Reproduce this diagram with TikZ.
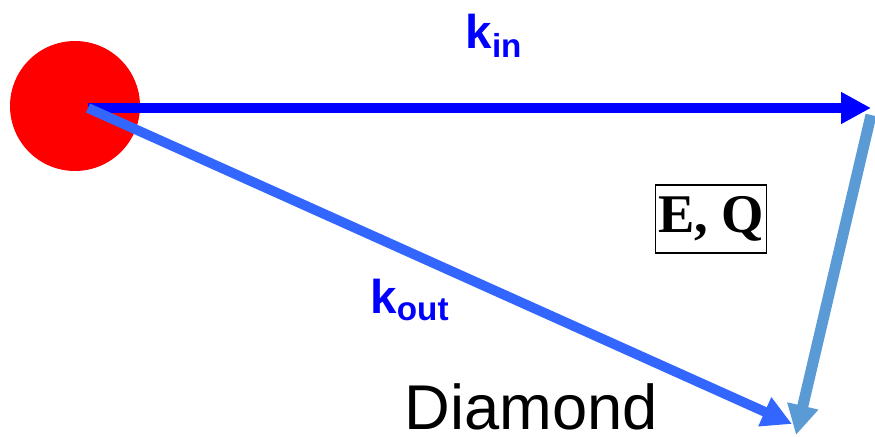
\documentclass[tikz,border=0pt]{standalone}
\usepackage{fontspec}
\setmainfont{Liberation Serif}
\setsansfont{Liberation Sans}
\usetikzlibrary{arrows.meta, positioning}
\definecolor{kinblue}{RGB}{0,0,255}
\definecolor{koutblue}{RGB}{51,102,255}
\definecolor{qblue}{RGB}{91,155,213}

\begin{document}
\begin{tikzpicture}[
      x=0.02cm, y=-0.02cm,
      ball/.style={circle, fill=red, minimum size=2.6cm, inner sep=0pt},
      vec/.style={line width=5.6pt, -{Triangle[length=17pt, width=17pt]}},
      lbl/.style={font=\sffamily\bfseries\fontsize{27}{30}\selectfont, text=kinblue},
      eqbox/.style={draw, thick, inner xsep=1.5pt, minimum height=1.36cm, font=\bfseries\fontsize{31}{33}\selectfont}
    ]
    \useasboundingbox (0,0) rectangle (875,436);

    \node[ball] (ball) at (75,106) {};
    \coordinate (start) at (88,108);
    \coordinate (tipin) at (871,108);
    \coordinate (tipout) at (792,424);
    \coordinate (tipq) at (796,435);

    \draw[vec, kinblue] (start) -- (tipin);
    \draw[vec, koutblue] (start) -- (tipout);
    \draw[vec, qblue, line width=6.3pt] ([yshift=-4pt]tipin) -- (tipq);

    \node[lbl] (kin) at (494,36) {k\textsubscript{in}};
    \node[lbl] (kout) at (410,300) {k\textsubscript{out}};
    \node[eqbox] (EQ) at (711,219) {E, Q};
    \node[font=\sffamily\fontsize{36}{40}\selectfont, anchor=base] (diam) at (531,429) {Diamond};
  \end{tikzpicture}
\end{document}
